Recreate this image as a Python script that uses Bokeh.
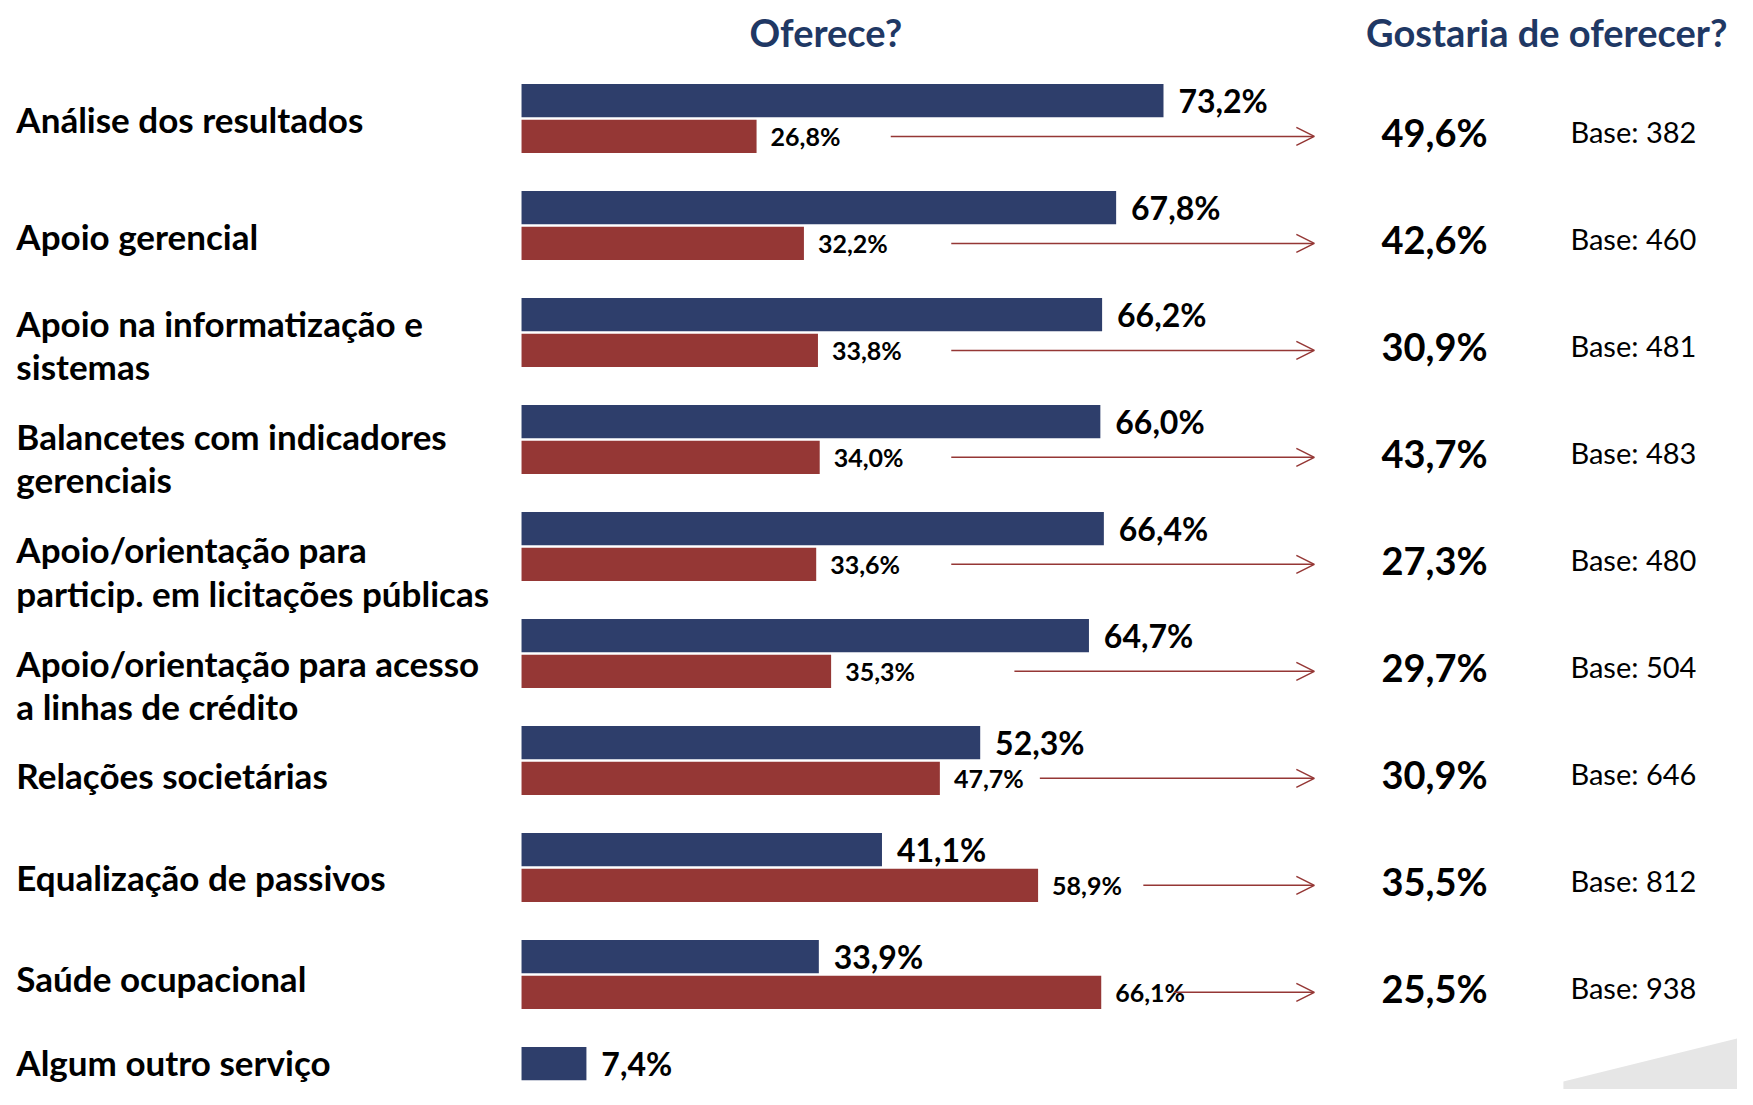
from bokeh.plotting import figure
from bokeh.models import ColumnDataSource, Range1d, Arrow, OpenHead
from bokeh.core.properties import value
from bokeh.embed import file_html
from bokeh.resources import INLINE

# ---------------- data ----------------
categories = [
    "Análise dos resultados",
    "Apoio gerencial",
    "Apoio na informatização e\nsistemas",
    "Balancetes com indicadores\ngerenciais",
    "Apoio/orientação para\nparticip. em licitações públicas",
    "Apoio/orientação para acesso\na linhas de crédito",
    "Relações societárias",
    "Equalização de passivos",
    "Saúde ocupacional",
    "Algum outro serviço",
]
oferece_sim = [73.2, 67.8, 66.2, 66.0, 66.4, 64.7, 52.3, 41.1, 33.9, 7.4]
oferece_nao = [26.8, 32.2, 33.8, 34.0, 33.6, 35.3, 47.7, 58.9, 66.1]
gostaria = [49.6, 42.6, 30.9, 43.7, 27.3, 29.7, 30.9, 35.5, 25.5]
bases = [382, 460, 481, 483, 480, 504, 646, 812, 938]

# ---------------- layout helpers (styling only) ----------------
label_dy = [0.0, 0.10, 0.11, 0.17, 0.23, 0.29, 0.14, 0.09, 0.03, -0.18]
arrow_start = [42.1, 49.0, 49.0, 49.0, 49.0, 56.2, 59.1, 70.9, 74.4]
arrow_end = 90.4
BLUE = "#2E3E6B"
RED = "#953735"
TITLE = "#1F3864"
FONT = "Lato"
off = 0.167
bh = 0.31

def fmt(v):
    return f"{v:.1f}".replace(".", ",") + "%"

n = len(categories)
rows = list(range(n))
m = len(oferece_nao)
rows_r = list(range(m))

p = figure(width=1737, height=1089, output_backend="svg", toolbar_location=None,
           x_range=Range1d(-59.41, 138.65), y_range=Range1d(9.075, -1.103),
           min_border=0, outline_line_color=None)
p.axis.visible = False
p.xgrid.visible = False
p.ygrid.visible = False
p.background_fill_color = "white"

# watermark shape bottom-right
p.patch(x=[118.8, 118.8, 141.0, 141.0], y=[9.3, 9.0, 8.55, 9.3], color="#E6E6E6", line_color=None)

# bars
src_b = ColumnDataSource(dict(y=[r - off for r in rows], v=oferece_sim,
                              lx=[v + 1.7 for v in oferece_sim],
                              t=[fmt(v) for v in oferece_sim]))
src_r = ColumnDataSource(dict(y=[r + off for r in rows_r], v=oferece_nao,
                              lx=[v + 1.6 for v in oferece_nao],
                              t=[fmt(v) for v in oferece_nao]))
p.hbar(y="y", left=0, right="v", height=bh, source=src_b, fill_color=BLUE, line_color=None)
p.hbar(y="y", left=0, right="v", height=bh, source=src_r, fill_color=RED, line_color=None)

p.text(x="lx", y="y", text="t", source=src_b, text_font=value(FONT), text_font_style="bold",
       text_font_size="32px", text_baseline="middle", text_align="left", text_color="black")
p.text(x="lx", y="y", text="t", source=src_r, text_font=value(FONT), text_font_style="bold",
       text_font_size="25px", text_baseline="middle", text_align="left", text_color="black")

# arrows
src_a = ColumnDataSource(dict(xs=arrow_start, xe=[arrow_end] * m, y=[r + off for r in rows_r]))
p.add_layout(Arrow(end=OpenHead(size=18, line_color=RED, line_width=1.5),
                   x_start="xs", y_start="y", x_end="xe", y_end="y",
                   line_color=RED, line_width=1.5, source=src_a))

# gostaria values and bases
src_g = ColumnDataSource(dict(x=[104.1] * m, y=[r + 0.125 for r in rows_r],
                              t=[fmt(v) for v in gostaria]))
p.text(x="x", y="y", text="t", source=src_g, text_font=value(FONT), text_font_style="bold",
       text_font_size="38px", text_baseline="middle", text_align="center", text_color="black")
src_base = ColumnDataSource(dict(x=[119.6] * m, y=[r + 0.12 for r in rows_r],
                                 t=[f"Base: {b}" for b in bases]))
p.text(x="x", y="y", text="t", source=src_base, text_font=value(FONT),
       text_font_size="29px", text_baseline="middle", text_align="left", text_color="black")

# category labels
src_c = ColumnDataSource(dict(x=[-57.6] * n, y=[r + d for r, d in zip(rows, label_dy)], t=categories))
p.text(x="x", y="y", text="t", source=src_c, text_font=value(FONT), text_font_style="bold",
       text_font_size="35px", text_baseline="middle", text_align="left", text_color="black",
       text_line_height=1.03)

# titles
p.text(x=[34.7], y=[-0.813], text=["Oferece?"], text_font=value(FONT), text_font_style="bold",
       text_font_size="38px", text_baseline="middle", text_align="center", text_color=TITLE)
p.text(x=[116.9], y=[-0.813], text=["Gostaria de oferecer?"], text_font=value(FONT),
       text_font_style="bold", text_font_size="38px", text_baseline="middle", text_align="center",
       text_color=TITLE)

open("out.html", "w").write(file_html(p, INLINE))
